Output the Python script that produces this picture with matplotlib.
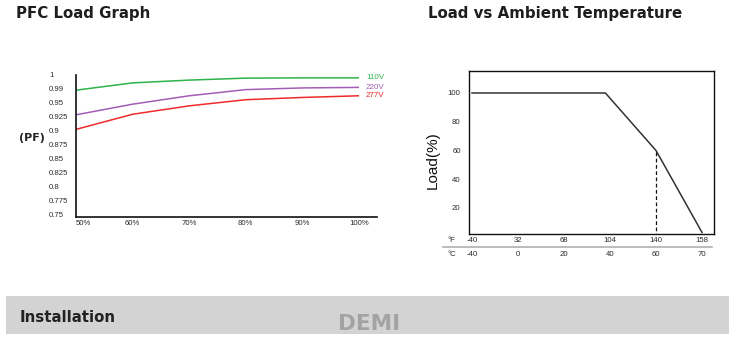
import numpy as np
import matplotlib
matplotlib.use("Agg")
import matplotlib.pyplot as plt
from matplotlib.patches import Rectangle
from matplotlib.lines import Line2D
import matplotlib.transforms as mtransforms

# ---------------- data ----------------
load_pct = [50, 60, 70, 80, 90, 100]
pf_110v = [0.972, 0.985, 0.990, 0.9935, 0.994, 0.994]
pf_220v = [0.928, 0.947, 0.962, 0.973, 0.976, 0.977]
pf_277v = [0.902, 0.929, 0.944, 0.955, 0.959, 0.962]
series_names = ["110V", "220V", "277V"]
series_colors = ["#2fb34a", "#a35db5", "#ee2a2a"]

pf_tick_pos = [1.0, 0.975, 0.95, 0.925, 0.9, 0.875, 0.85, 0.825, 0.8, 0.775, 0.75]
pf_tick_lbl = ["1", "0.99", "0.95", "0.925", "0.9", "0.875", "0.85", "0.825", "0.8", "0.775", "0.75"]
load_tick_lbl = ["50%", "60%", "70%", "80%", "90%", "100%"]

temp_f = ["-40", "32", "68", "104", "140", "158"]
temp_c = [-40, 0, 20, 40, 60, 70]
derate_c = [-40, 38, 60, 70]
derate_load = [100, 100, 60, 3]
load_ticks = [20, 40, 60, 80, 100]

# ---------------- figure ----------------
W, H = 734, 337
fig = plt.figure(figsize=(W / 100, H / 100), dpi=100)
fig.patch.set_facecolor("white")

def fx(px):
    return px / W

def fy(py):
    return 1 - py / H

TXT = "#2b2b2b"
SMALL = dict(family="Liberation Sans", fontsize=5.6, color=TXT)

# titles
fig.text(fx(16), fy(18), "PFC Load Graph", fontsize=10.8, fontweight="bold",
         color="#1e1e1e", va="baseline", ha="left")
fig.text(fx(428), fy(18), "Load vs Ambient Temperature", fontsize=10.8,
         fontweight="bold", color="#1e1e1e", va="baseline", ha="left")

# ---------------- PFC chart ----------------
x0, x1, yt, yb = 76, 377, 74.5, 217
ax1 = fig.add_axes([fx(x0), fy(yb), fx(x1 - x0), (yb - yt) / H])
for vals, c in zip([pf_110v, pf_220v, pf_277v], series_colors):
    ax1.plot(load_pct, vals, color=c, lw=1.1, solid_capstyle="butt")
ax1.set_xlim(50, 100 + 18 / 283 * 50)
ax1.set_ylim(0.75 - 2.5 / 560, 1.0)
for s in ["top", "right"]:
    ax1.spines[s].set_visible(False)
for s in ["left", "bottom"]:
    ax1.spines[s].set_linewidth(1.2)
    ax1.spines[s].set_color("#111111")
ax1.set_yticks(pf_tick_pos)
ax1.set_yticklabels(pf_tick_lbl, **SMALL)
for lab in ax1.get_yticklabels():
    lab.set_ha("left")
ax1.tick_params(axis="y", length=0, pad=19.5)
ax1.set_xticks(load_pct)
ax1.set_xticklabels(load_tick_lbl, **SMALL)
ax1.get_xticklabels()[0].set_ha("left")
ax1.tick_params(axis="x", length=0, pad=2.5)
for name, vals, c, dy in zip(series_names, [pf_110v, pf_220v, pf_277v], series_colors, [0, 0, 0]):
    ax1.annotate(name, xy=(load_pct[-1], vals[-1]), xytext=(5, 0),
                 textcoords="offset points", va="center", ha="left",
                 family="Liberation Sans", fontsize=5.8, color=c)
fig.text(fx(19), fy(138), "(PF)", fontsize=8, fontweight="bold", color="#222222",
         va="center", ha="left")

# ---------------- Load vs temperature ----------------
rx0, rx1, rt, rb = 469, 714, 71, 234
ax2 = fig.add_axes([fx(rx0), fy(rb), fx(rx1 - rx0), (rb - rt) / H])
idx = np.arange(len(temp_c))
xpos = np.interp(derate_c, temp_c, idx)
ax2.plot(xpos, derate_load, color="#333333", lw=1.1)
ax2.plot([xpos[2], xpos[2]], [0, derate_load[2]], color="#111111", lw=0.9,
         ls=(0, (3, 2)))
ax2.set_xlim(-3 / 46, 5 + 12 / 46)
ax2.set_ylim(1.9, 115.3)
for s in ax2.spines.values():
    s.set_linewidth(1.0)
    s.set_color("#111111")
ax2.set_yticks(load_ticks)
ax2.set_yticklabels([str(v) for v in load_ticks], **SMALL)
ax2.tick_params(axis="y", length=0, pad=6)
ax2.set_xticks(idx)
ax2.set_xticklabels(temp_f, **SMALL)
ax2.tick_params(axis="x", length=0, pad=2)
trans = mtransforms.blended_transform_factory(ax2.transData, fig.transFigure)
for i, c in zip(idx, temp_c):
    ax2.text(i, fy(254.5), str(c), transform=trans, ha="center", va="center",
             clip_on=False, **SMALL)
fig.text(fx(447), fy(240), "°F", va="center", ha="left", **SMALL)
fig.text(fx(447), fy(254.5), "°C", va="center", ha="left", **SMALL)
fig.add_artist(Line2D([fx(443), fx(712)], [fy(247), fy(247)], color="#b0b0b0",
                      lw=1.2, transform=fig.transFigure))
fig.text(fx(433), fy(160), "Load(%)", rotation=90, va="center", ha="center",
         family="Liberation Sans", fontsize=11, color="#111111")

# ---------------- bottom band ----------------
band = Rectangle((fx(6), fy(334)), fx(729 - 6), (334 - 296) / H,
                 transform=fig.transFigure, facecolor="#d3d3d3",
                 edgecolor="none")
fig.add_artist(band)
fig.text(fx(20), fy(322), "Installation", fontsize=10.8, fontweight="bold",
         color="#222222", va="baseline", ha="left")
demi = fig.text(fx(338), fy(330), "DEMI", fontsize=15.5, fontweight="bold",
                color="#a3a3a3", va="baseline", ha="left")
demi.set_clip_path(band)

fig.savefig("out.png", dpi=100)
